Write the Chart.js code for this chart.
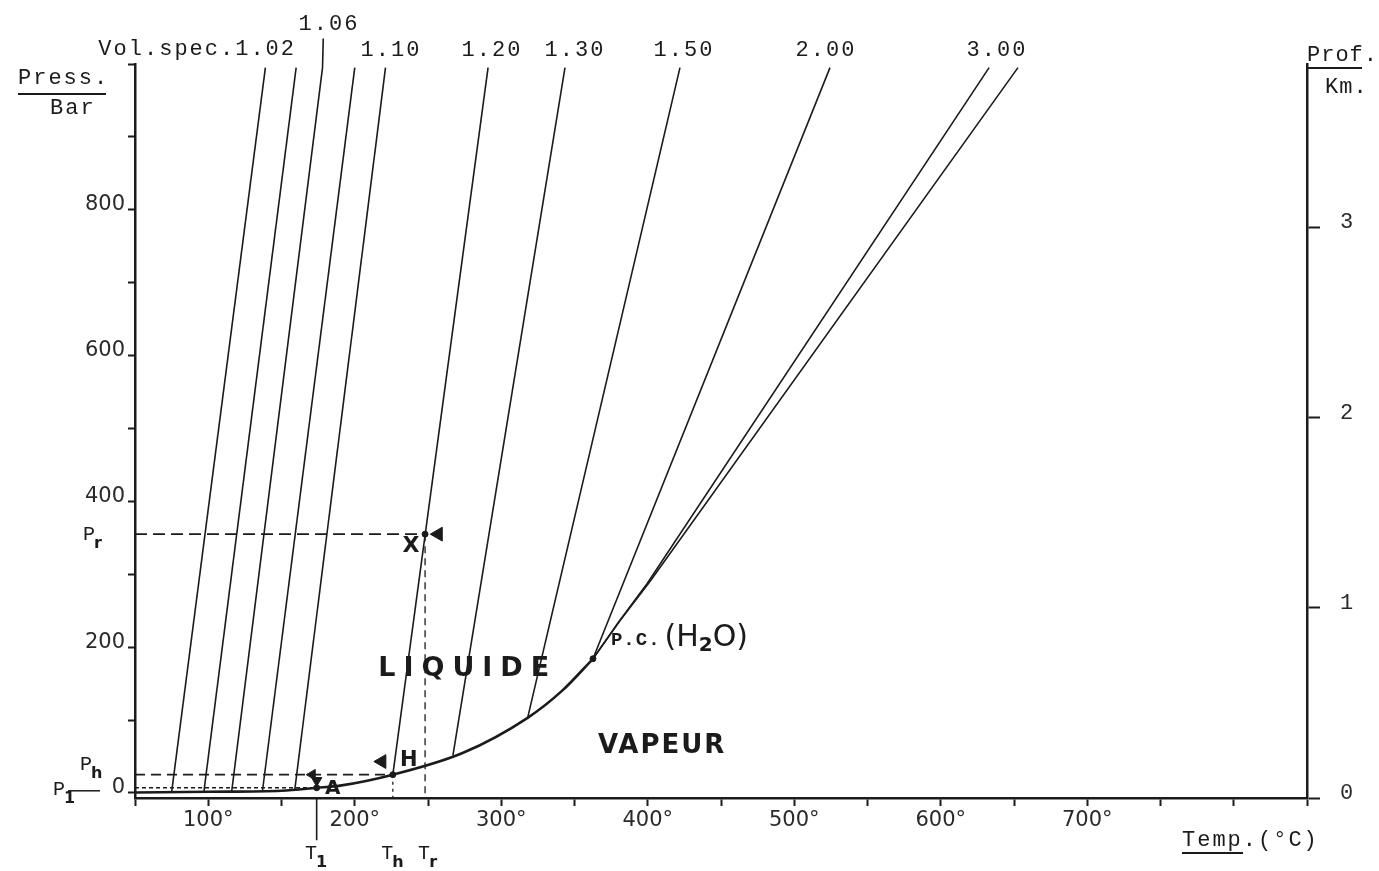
<!DOCTYPE html>
<html>
<head>
<meta charset="utf-8">
<script src="https://cdn.jsdelivr.net/npm/chart.js@4.4.1/dist/chart.umd.min.js"></script>
<style>
  html, body { margin: 0; padding: 0; background: #fff; }
</style>
</head>
<body>
<canvas id="diagram" width="1379" height="871"></canvas>
<script>
// isochores, [temp °C, press bar]
const iso102 = [[75, 1], [139, 995]]
const iso104 = [[97, 1.5], [160, 995]]
const iso106 = [[116, 2], [178, 995], [178.5, 1035]]
const iso108 = [[137, 2.6], [200, 995]]
const iso110 = [[159, 3.5], [221, 995]]
const iso120 = [[226, 25], [291, 995]]
const iso130 = [[267, 51], [343.5, 995]]
const iso150 = [[318, 103], [422, 995]]
const iso200 = [[362.6, 184], [524.4, 995]]
const iso300a = [[362.6, 184], [380, 234], [399.5, 287], [633, 995]]
const iso300b = [[362.6, 184], [381, 236], [401.5, 290], [652.7, 995]]

// courbe de saturation
const boilT = [50, 100, 150, 174, 190, 226, 274, 318, 342, 362.6]
const boilP = [0.5, 1.5, 3, 7, 10, 25, 55, 103, 141, 184]

// points remarquables
const T1 = 174, Th = 226, Tr = 248
const P1 = 7, Ph = 25, Pr = 355
const PC = [362.6, 184]

const volLabels = ['Vol.spec.1.02', '1.06', '1.10', '1.20', '1.30', '1.50', '2.00', '3.00']
const xTicks = [50, 100, 150, 200, 250, 300, 350, 400, 450, 500, 550, 600, 650, 700, 750, 800, 850]
const xTickLabels = [100, 200, 300, 400, 500, 600, 700]
const barTicks = [0, 100, 200, 300, 400, 500, 600, 700, 800, 900, 1000]
const barLabels = [0, 200, 400, 600, 800]
const kmLabels = [0, 1, 2, 3]

const ink = '#1b1b1b'
const sans = "'DejaVu Sans', sans-serif"
const mono = "'Liberation Mono', monospace"

function line(pts, width, dash, extra) {
  return Object.assign({
    data: pts.map(([x, y]) => ({ x, y })),
    showLine: true,
    borderColor: ink,
    backgroundColor: ink,
    borderWidth: width,
    borderDash: dash || [],
    pointRadius: 0
  }, extra || {})
}

const boilPts = boilT.map((t, i) => [t, boilP[i]])
const smooth = { cubicInterpolationMode: 'monotone' }

const datasets = [
  line(iso102, 1.6), line(iso104, 1.6), line(iso106, 1.6, null, { clip: false }),
  line(iso108, 1.6), line(iso110, 1.6), line(iso120, 1.6), line(iso130, 1.6),
  line(iso150, 1.6), line(iso200, 1.6), line(iso300a, 1.6), line(iso300b, 1.6),
  line(boilPts, 2.6, null, smooth),
  // constructions en tirets
  line([[50, Pr], [Tr, Pr]], 1.7, [12, 6]),
  line([[Tr, Pr], [Tr, -7]], 1.3, [7, 5]),
  line([[50, Ph], [Th, Ph]], 1.7, [10, 6]),
  line([[Th, Ph], [Th, -7]], 1.3, [3, 4]),
  line([[50, P1], [T1, P1]], 1.5, [4, 3]),
  line([[T1, -7], [T1, -65]], 1.6, null, { clip: false }),
  // points
  {
    data: [{ x: Tr, y: Pr }, { x: Th, y: Ph }, { x: T1, y: P1 }, { x: PC[0], y: PC[1] }],
    showLine: false, pointRadius: 3, backgroundColor: ink, borderColor: ink
  },
  // fleches
  {
    data: [{ x: 257, y: Pr }, { x: 218.5, y: 43 }, { x: 171, y: Ph }],
    showLine: false, pointStyle: 'triangle', rotation: -90,
    pointRadius: [8, 8, 6], backgroundColor: ink, borderColor: ink
  },
  {
    data: [{ x: T1, y: 17 }],
    showLine: false, pointStyle: 'triangle', rotation: 180,
    pointRadius: 6, backgroundColor: ink, borderColor: ink
  }
]

function txt(ctx, s, x, y, font, align, spacing) {
  ctx.font = font
  ctx.letterSpacing = spacing || '0px'
  ctx.textAlign = align || 'left'
  ctx.textBaseline = 'middle'
  ctx.fillText(s, x, y)
}

function subLabel(ctx, main, small, x, y, size, align) {
  ctx.font = size + 'px ' + mono
  ctx.letterSpacing = '0px'
  ctx.textBaseline = 'middle'
  const w = ctx.measureText(main).width
  ctx.font = 'bold ' + Math.round(size * 0.8) + 'px ' + sans
  const w2 = ctx.measureText(small).width
  let left = align === 'center' ? x - (w + w2) / 2 : x
  ctx.textAlign = 'left'
  ctx.font = size + 'px ' + mono
  ctx.fillText(main, left, y)
  ctx.font = 'bold ' + Math.round(size * 0.8) + 'px ' + sans
  ctx.fillText(small, left + w - 1, y + size * 0.45)
}

const diagramText = {
  id: 'diagramText',
  afterDraw(chart) {
    const ctx = chart.ctx
    const px = t => chart.scales.x.getPixelForValue(t)
    const py = p => chart.scales.y.getPixelForValue(p)
    ctx.save()
    ctx.fillStyle = ink
    ctx.strokeStyle = ink

    // titres des axes
    const f22 = '22px ' + mono
    txt(ctx, 'Press.', 18, 78, f22, 'left', '2px')
    txt(ctx, 'Bar', 50, 108, f22, 'left', '2px')
    txt(ctx, 'Prof.', 1307, 55, f22, 'left', '1px')
    txt(ctx, 'Km.', 1325, 87, f22, 'left', '1px')
    txt(ctx, 'Temp.(°C)', 1182, 840, f22, 'left', '2px')
    ctx.lineWidth = 2
    ctx.beginPath()
    ctx.moveTo(18, 94); ctx.lineTo(106, 94)
    ctx.moveTo(1307, 68); ctx.lineTo(1362, 68)
    ctx.moveTo(1182, 853); ctx.lineTo(1243, 853)
    ctx.stroke()

    // volumes specifiques
    const volX = [296, 329, 391, 492, 575, 684, 826, 997]
    volLabels.forEach((s, i) => {
      if (i === 0) txt(ctx, s, volX[i], 49, f22, 'right', '2px')
      else txt(ctx, s, volX[i], i === 1 ? 24 : 50, f22, 'center', '2px')
    })

    // domaines
    txt(ctx, 'LIQUIDE', px(216), py(170), 'bold 27px ' + sans, 'left', '8px')
    txt(ctx, 'VAPEUR', px(366), py(64), 'bold 26px ' + sans, 'left', '2px')

    // lettres des points
    txt(ctx, 'X', px(Tr) - 14, py(Pr) + 12, 'bold 22px ' + sans, 'center')
    txt(ctx, 'H', px(Th) + 16, py(Ph) - 14, 'bold 21px ' + sans, 'center')
    txt(ctx, 'A', px(T1) + 16, py(P1) + 1, 'bold 20px ' + sans, 'center')

    // point critique
    let x0 = px(PC[0]) + 18, y0 = py(PC[1]) - 21
    txt(ctx, 'P.C.', x0, y0 + 2, 'bold 19px ' + mono, 'left', '1px')
    x0 += ctx.measureText('P.C.').width + 4
    txt(ctx, '(H', x0, y0, '30px ' + sans, 'left')
    x0 += ctx.measureText('(H').width
    txt(ctx, '2', x0, y0 + 8, 'bold 20px ' + sans, 'left')
    x0 += ctx.measureText('2').width
    txt(ctx, 'O)', x0, y0, '30px ' + sans, 'left')

    // etiquettes P et T
    subLabel(ctx, 'P', 'r', 83, py(Pr) + 1, 20)
    subLabel(ctx, 'P', 'h', 80, py(Ph) - 10, 20)
    subLabel(ctx, 'P', '1', 53, py(P1) + 2, 20)
    ctx.lineWidth = 1.5
    ctx.beginPath()
    ctx.moveTo(68, py(P1) + 3); ctx.lineTo(100, py(P1) + 3)
    ctx.stroke()
    subLabel(ctx, 'T', '1', px(T1), 854, 20, 'center')
    subLabel(ctx, 'T', 'h', px(Th), 854, 20, 'center')
    subLabel(ctx, 'T', 'r', px(Tr) + 3, 854, 20, 'center')
    ctx.restore()
  }
}

const tickFont = { family: "'DejaVu Sans', sans-serif", size: 21 }
const axisBorder = { color: ink, width: 2.5 }
const setTicks = vals => s => { s.ticks = vals.map(v => ({ value: v })) }

new Chart(document.getElementById('diagram'), {
  type: 'scatter',
  data: { datasets: datasets },
  plugins: [diagramText],
  options: {
    responsive: false,
    animation: false,
    events: [],
    layout: { padding: { top: 64, left: 0, right: 0, bottom: 0 } },
    plugins: {
      legend: { display: false },
      tooltip: { enabled: false }
    },
    scales: {
      x: {
        type: 'linear', min: 50, max: 850, position: 'bottom',
        afterFit: s => { s.height = 73 },
        afterBuildTicks: setTicks(xTicks),
        border: axisBorder,
        grid: { drawOnChartArea: false, tickLength: 8, tickWidth: 2, color: ink },
        ticks: {
          autoSkip: false, maxRotation: 0, padding: 2,
          color: '#2a2a2a', font: tickFont,
          callback: v => xTickLabels.includes(v) ? v + '°' : ''
        }
      },
      y: {
        type: 'linear', min: -7, max: 1000, position: 'left',
        afterFit: s => { s.width = 135 },
        afterBuildTicks: setTicks(barTicks),
        border: axisBorder,
        grid: { drawOnChartArea: false, tickLength: 7, tickWidth: 2, color: ink },
        ticks: {
          autoSkip: false, padding: 3, labelOffset: -5,
          color: '#2a2a2a', font: tickFont,
          callback: v => barLabels.includes(v) ? v : ''
        }
      },
      km: {
        type: 'linear', min: 0, max: 3.86, position: 'right',
        afterFit: s => { s.width = 72 },
        afterBuildTicks: setTicks(kmLabels),
        border: axisBorder,
        grid: { drawOnChartArea: false, tickLength: 13, tickWidth: 2, color: ink },
        ticks: {
          autoSkip: false, padding: 20, labelOffset: -5,
          color: '#2a2a2a', font: { family: "'Liberation Mono', monospace", size: 22 },
          callback: v => kmLabels.includes(v) ? v : ''
        }
      }
    }
  }
})
</script>
</body>
</html>
